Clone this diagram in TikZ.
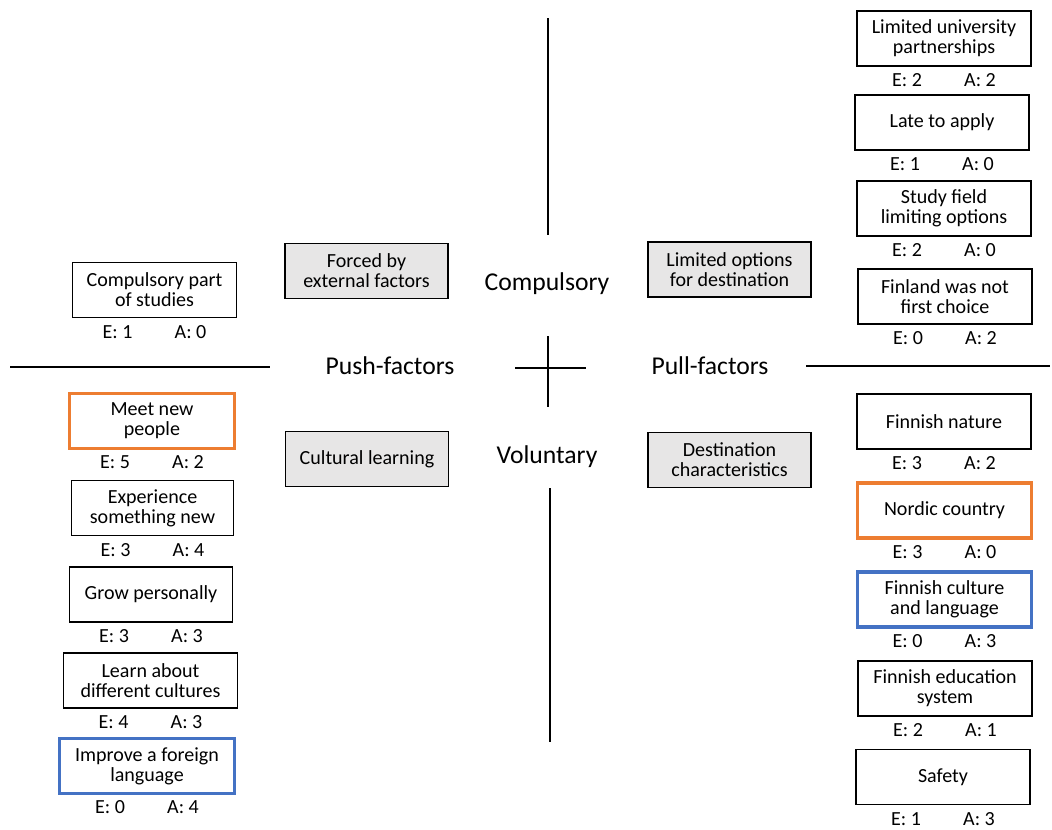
\documentclass[tikz,border=0pt]{standalone}
\usepackage{fontspec}
\setmainfont{Carlito}
\usepackage{xcolor}
\definecolor{hl_orange}{RGB}{237,125,49}
\definecolor{hl_blue}{RGB}{68,114,196}
\definecolor{light_gray}{RGB}{231,230,230}
\usetikzlibrary{positioning}
\newcommand{\votes}[2]{\makebox[1.44cm][l]{E: #1}A: #2}
\tikzset{
  factor/.style={draw, line width=0.6pt, align=center, inner sep=2pt,
    minimum height=1.1cm, minimum width=3.48cm,
    font=\fontsize{11.4}{11.4}\selectfont},
  theme/.style={factor, fill=light_gray, minimum width=3.26cm},
  orangebox/.style={factor, draw=hl_orange, line width=1.8pt},
  bluebox/.style={factor, draw=hl_blue, line width=1.8pt},
  count/.style={inner sep=0pt, font=\fontsize{11.4}{11.4}\selectfont},
  axis/.style={inner sep=0pt, font=\fontsize{14.6}{14.6}\selectfont},
  axisline/.style={line width=0.6pt}
}
\begin{document}
\begin{tikzpicture}[x=0.02cm, y=-0.02cm]
\useasboundingbox (0,0) rectangle (1052,829);

% axes
\node[axis] (compulsory) at (547,284) {Compulsory};
\node[axis] (voluntary) at (547,457) {Voluntary};
\node[axis] (push) at (390,366) {Push-factors};
\node[axis] (pull) at (710,366) {Pull-factors};
\draw[axisline] (548,18) -- (548,235);
\draw[axisline] (550,488) -- (550,742);
\draw[axisline] (10,367) -- (270,367);
\draw[axisline] (806,366) -- (1050,366);
\draw[axisline] (515,368) -- (586,368);
\draw[axisline] (548,336) -- (548,407);

% themes
\node[theme] (forced) at (366.5,271) {Forced by\\external factors};
\node[theme] (cultural) at (367,459) {Cultural learning};
\node[theme] (limited) at (729.5,269.5) {Limited options\\for destination};
\node[theme] (destination) at (729.5,460) {Destination\\characteristics};

% push-factors, compulsory
\node[factor, minimum width=3.28cm] (studies) at (154.5,290) {Compulsory part\\of studies};
\node[count, below=4pt of studies] (studiesN) {\votes{1}{0}};

% push-factors, voluntary
\node[orangebox, minimum width=3.3cm] (meet) at (152,421) {Meet new\\people};
\node[count, below=3pt of meet] (meetN) {\votes{5}{2}};
\node[factor, minimum width=3.24cm] (experience) at (152.5,508) {Experience\\something new};
\node[count, below=4pt of experience] (experienceN) {\votes{3}{4}};
\node[factor, minimum width=3.26cm] (grow) at (151,594.5) {Grow personally};
\node[count, below=4pt of grow] (growN) {\votes{3}{3}};
\node[factor, minimum width=3.48cm] (learn) at (150.5,680.5) {Learn about\\different cultures};
\node[count, below=4pt of learn] (learnN) {\votes{4}{3}};
\node[bluebox, minimum width=3.5cm] (improve) at (147,766) {Improve a foreign\\language};
\node[count, below=3pt of improve] (improveN) {\votes{0}{4}};

% pull-factors, compulsory
\node[factor] (partner) at (944,38.5) {Limited university\\partnerships};
\node[count, below=4pt of partner] (partnerN) {\votes{2}{2}};
\node[factor] (late) at (942,122.5) {Late to apply};
\node[count, below=4pt of late] (lateN) {\votes{1}{0}};
\node[factor] (field) at (944,208.5) {Study field\\limiting options};
\node[count, below=4pt of field] (fieldN) {\votes{2}{0}};
\node[factor] (choice) at (945,296.5) {Finland was not\\first choice};
\node[count, below=4pt of choice] (choiceN) {\votes{0}{2}};

% pull-factors, voluntary
\node[factor] (nature) at (944,421.5) {Finnish nature};
\node[count, below=4pt of nature] (natureN) {\votes{3}{2}};
\node[orangebox] (nordic) at (944.5,510.5) {Nordic country};
\node[count, below=3pt of nordic] (nordicN) {\votes{3}{0}};
\node[bluebox] (culture) at (944.5,599.5) {Finnish culture\\and language};
\node[count, below=3pt of culture] (cultureN) {\votes{0}{3}};
\node[factor] (education) at (945,688.5) {Finnish education\\system};
\node[count, below=4pt of education] (educationN) {\votes{2}{1}};
\node[factor] (safety) at (943,777) {Safety};
\node[count, below=4pt of safety] (safetyN) {\votes{1}{3}};
\end{tikzpicture}
\end{document}
